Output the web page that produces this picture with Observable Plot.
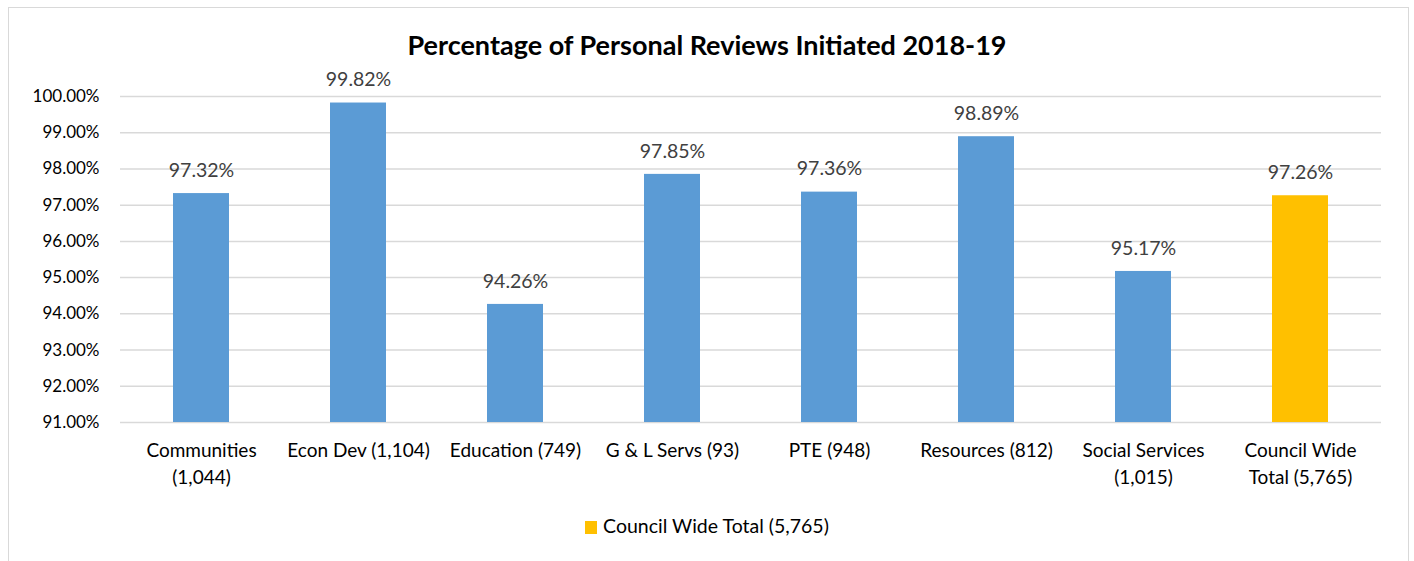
<!DOCTYPE html>
<html>
<head>
<meta charset="utf-8">
<script src="https://cdn.jsdelivr.net/npm/d3@7"></script>
<script src="https://cdn.jsdelivr.net/npm/@observablehq/plot@0.6"></script>
<style>
  html, body { margin: 0; padding: 0; background: #fff; }
  body { width: 1414px; height: 561px; overflow: hidden; position: relative; font-family: Lato, "Open Sans", sans-serif; }
  #frame { position: absolute; left: 8px; top: 7px; width: 1401px; height: 600px; border: 1.5px solid #d9d9d9; box-sizing: border-box; }
  #title { position: absolute; left: 0; top: 29px; width: 1414px; text-align: center; font-weight: bold; font-size: 27px; color: #000; line-height: 32px; }
  #chart { position: absolute; left: 8px; top: 60px; }
  #legend { position: absolute; left: 0; top: 512px; width: 1414px; text-align: center; font-size: 19.5px; color: #000; line-height: 28px; }
  #legend .sw { display: inline-block; width: 12px; height: 13px; background: #FFC000; margin-right: 6px; vertical-align: -1px; }
</style>
</head>
<body>
<div id="frame"></div>
<div id="title">Percentage of Personal Reviews Initiated 2018-19</div>
<div id="chart"></div>
<div id="legend"><span class="sw"></span>Council Wide Total (5,765)</div>
<script>
const categories = [
  "Communities\n(1,044)",
  "Econ Dev (1,104)",
  "Education (749)",
  "G & L Servs (93)",
  "PTE (948)",
  "Resources (812)",
  "Social Services\n(1,015)",
  "Council Wide\nTotal (5,765)"
];
const values = [97.32, 99.82, 94.26, 97.85, 97.36, 98.89, 95.17, 97.26];
const yTicks = [91, 92, 93, 94, 95, 96, 97, 98, 99, 100];
const totalCategory = "Council Wide\nTotal (5,765)";

const data = categories.map((c, i) => ({category: c, value: values[i]}));
const blue = "#5B9BD5", yellow = "#FFC000";

const chart = Plot.plot({
  width: 1401,
  height: 432,
  marginLeft: 112,
  marginRight: 28,
  marginTop: 36,
  marginBottom: 70,
  style: {fontFamily: "Lato, 'Open Sans', sans-serif", background: "transparent"},
  x: {domain: categories, paddingInner: 0.645, paddingOuter: 0.3225, align: 0.5},
  y: {domain: [91, 100]},
  marks: [
    Plot.gridY(yTicks, {stroke: "#d9d9d9", strokeOpacity: 1, strokeWidth: 1.5}),
    Plot.barY(data, {x: "category", y1: 91, y2: "value", fill: d => d.category === totalCategory ? yellow : blue}),
    Plot.text(data, {x: "category", y: "value", text: d => d.value.toFixed(2) + "%", dy: -23, lineAnchor: "middle", fill: "#404040", fontSize: 19.5}),
    Plot.axisY(yTicks, {tickSize: 0, tickPadding: 21, tickFormat: d => d.toFixed(2) + "%", fontSize: 17, fill: "#000", label: null}),
    Plot.axisX({tickSize: 0, tickPadding: 15, fontSize: 19, fill: "#000", lineHeight: 1.42, label: null})
  ]
});
document.getElementById("chart").appendChild(chart);
</script>
</body>
</html>
